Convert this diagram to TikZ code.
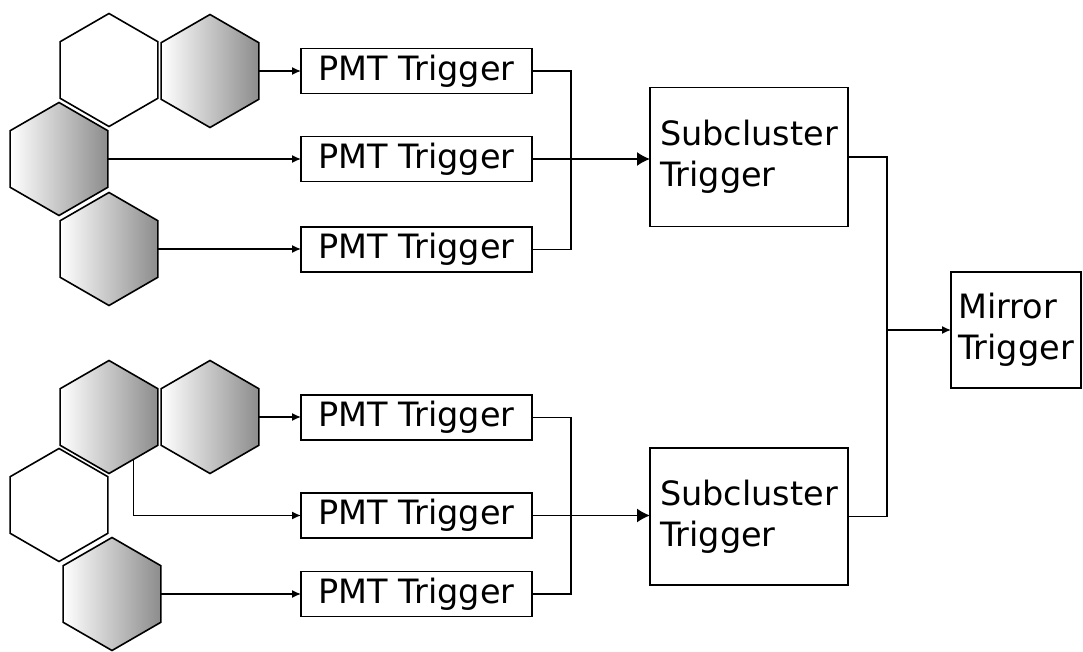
\documentclass[tikz,border=0pt]{standalone}
\usepackage{fontspec}
\setmainfont{DejaVu Sans}
\usetikzlibrary{arrows.meta,shapes.geometric}

\begin{document}
\begin{tikzpicture}[
  x=1pt, y=-1pt, font=\fontsize{33.5}{41}\selectfont,
  hexw/.style={regular polygon, regular polygon sides=6, shape border rotate=30,
               minimum size=113pt, inner sep=0pt, outer sep=0pt,
               draw=black, line width=1.6pt, fill=white},
  hexg/.style={hexw, left color=white, right color=black!45},
  pmt/.style={draw, line width=1.6pt, minimum width=231pt, minimum height=45pt,
              inner sep=0pt, outer sep=0pt},
  blk/.style={draw, line width=1.6pt, align=left, inner sep=0pt, outer sep=0pt},
  ln/.style={draw=black, line width=1.4pt},
  ar/.style={ln, -{Latex[length=9pt,width=8pt]}},
  arb/.style={ln, -{Latex[length=13pt,width=14pt]}},
]
\useasboundingbox (0,0) rectangle (1083,652);

% ---------------------------------------------------------------- hexagons
\node[hexw] (hA) at (109,70)  {};
\node[hexw] (hG) at (59,505)  {};
\node[hexg] (hB) at (210,71)  {};
\node[hexg] (hC) at (59,159)  {};
\node[hexg] (hD) at (109,249) {};
\node[hexg] (hE) at (109,417) {};
\node[hexg] (hF) at (210,417) {};
\node[hexg] (hH) at (112,594) {};

% ---------------------------------------------------------------- PMT triggers
\node[pmt] (p1) at (416.5,71)    {PMT Trigger};
\node[pmt] (p2) at (416.5,159)   {PMT Trigger};
\node[pmt] (p3) at (416.5,249.5) {PMT Trigger};
\node[pmt] (p4) at (416.5,417.5) {PMT Trigger};
\node[pmt] (p5) at (416.5,515.5) {PMT Trigger};
\node[pmt] (p6) at (416.5,594)   {PMT Trigger};

% ---------------------------------------------------------------- subcluster / mirror
\node[blk, minimum width=198pt, minimum height=139pt] (s1) at (749,157) {Subcluster\\Trigger};
\node[blk, minimum width=198pt, minimum height=137pt] (s2) at (749,516.5) {Subcluster\\Trigger};
\node[blk, minimum width=130pt, minimum height=116pt] (mt) at (1016,330) {Mirror\\Trigger};

\coordinate (j1) at (571,159);
\coordinate (j2) at (571,515.5);
\coordinate (j3) at (887,330);

% ---------------------------------------------------------------- arrows
\draw[ar] (hB.east) -- (hB.east -| p1.west);
\draw[ar] (hC.east) -- (hC.east -| p2.west);
\draw[ar] (hD.east) -- (hD.east -| p3.west);
\draw[ar] (hF.east) -- (hF.east -| p4.west);
\draw[ar] (hE.-60) |- (p5.west);
\draw[ar] (hH.east) -- (hH.east -| p6.west);

\draw[ln] (p1.east) -| (j1) |- (p3.east);
\draw[ln] (p4.east) -| (j2) |- (p6.east);
\draw[arb] (p2.east) -- (p2.east -| s1.west);
\draw[arb] (p5.east) -- (p5.east -| s2.west);

\draw[ln] (s1.east) -| (j3) |- (s2.east);
\draw[ar] (j3) -- (mt.west);

\end{tikzpicture}
\end{document}
